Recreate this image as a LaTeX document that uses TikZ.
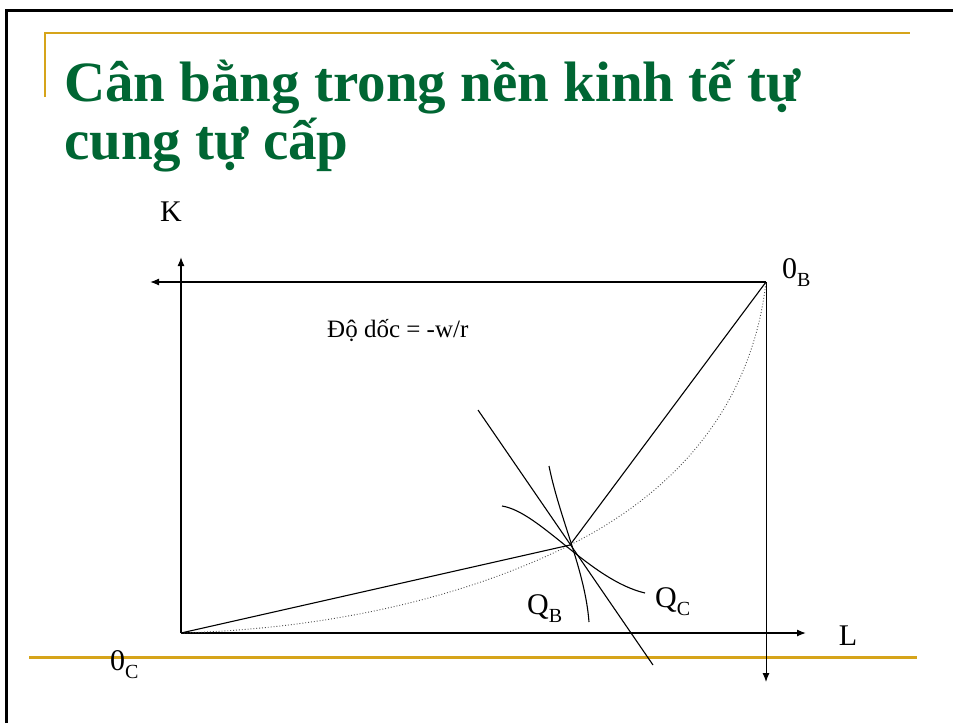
\documentclass[tikz,border=0pt]{standalone}
\usepackage{fontspec}
\setmainfont{Liberation Serif}
\usetikzlibrary{arrows.meta}
\definecolor{titlegreen}{RGB}{0,102,51}
\definecolor{slidegold}{RGB}{214,164,26}
\newcommand{\lbl}[2]{#1\raisebox{-0.28em}{\fontsize{20}{24}\selectfont #2}}

\begin{document}
\begin{tikzpicture}[x=1pt,y=-1pt,
  axis/.style={line width=1.3pt,-{Latex[length=9pt,width=7pt]}},
  curve/.style={line width=1.1pt},
  contract/.style={dotted,line width=0.9pt,black!70},
  title/.style={anchor=base west,inner sep=0pt,text=titlegreen,font=\fontsize{57}{66}\selectfont\bfseries},
  axlabel/.style={inner sep=0pt,font=\fontsize{30}{36}\selectfont}]
\useasboundingbox (0,0) rectangle (953,723);
\fill[white] (0,0) rectangle (953,723);
% slide frame
\draw[line width=3pt] (6.5,723) -- (6.5,10.5) -- (953,10.5);
\draw[slidegold,line width=2pt] (45,97) -- (45,33) -- (910,33);
\draw[slidegold,line width=3pt] (29,657.5) -- (917,657.5);
\node[title] (title1) at (64,101) {Cân bằng trong nền kinh tế tự};
\node[title] (title2) at (64,159) {cung tự cấp};
% box
\coordinate (oC) at (181,633);
\coordinate (oB) at (766,282);
\coordinate (E) at (570,545);
\coordinate (Lend) at (806,633);
\coordinate (Kend) at (181,257);
\coordinate (topend) at (150,282);
\coordinate (rightend) at (766,682);
\draw[axis] (oC) -- (Lend);
\draw[axis] (oC) -- (Kend);
\draw[axis] (oB) -- (topend);
\draw[line width=1pt,-{Latex[length=9pt,width=7pt]}] (oB) -- (rightend);
\draw[contract] (oC) .. controls (350,628) and (480,590) .. (E)
  .. controls (660,500) and (750,420) .. (oB);
\draw[curve] (oC) -- (E) -- (oB);
% price line and isoquants
\coordinate (pl1) at (478,410);
\coordinate (pl2) at (653,665);
\draw[curve] (pl1) -- (pl2);
\coordinate (qb1) at (549,466);
\coordinate (qb2) at (589,622);
\draw[curve] (qb1) .. controls (560,520) and (585,570) .. (qb2);
\coordinate (qc1) at (502,506);
\coordinate (qc2) at (645,593);
\draw[curve] (qc1) .. controls (540,512) and (590,580) .. (qc2);
% labels
\node[axlabel] (K) at (171,212) {K};
\node[axlabel] (L) at (848,636) {L};
\node[axlabel,anchor=base west] (OB) at (782,278) {\lbl{0}{B}};
\node[axlabel,anchor=base west] (OC) at (110,670) {\lbl{0}{C}};
\node[axlabel,anchor=base west] (QB) at (527,614) {\lbl{Q}{B}};
\node[axlabel,anchor=base west] (QC) at (655,607) {\lbl{Q}{C}};
\node[inner sep=0pt,anchor=base west,font=\fontsize{25}{30}\selectfont] (slope) at (327,337) {Độ dốc = -w/r};
\end{tikzpicture}
\end{document}
